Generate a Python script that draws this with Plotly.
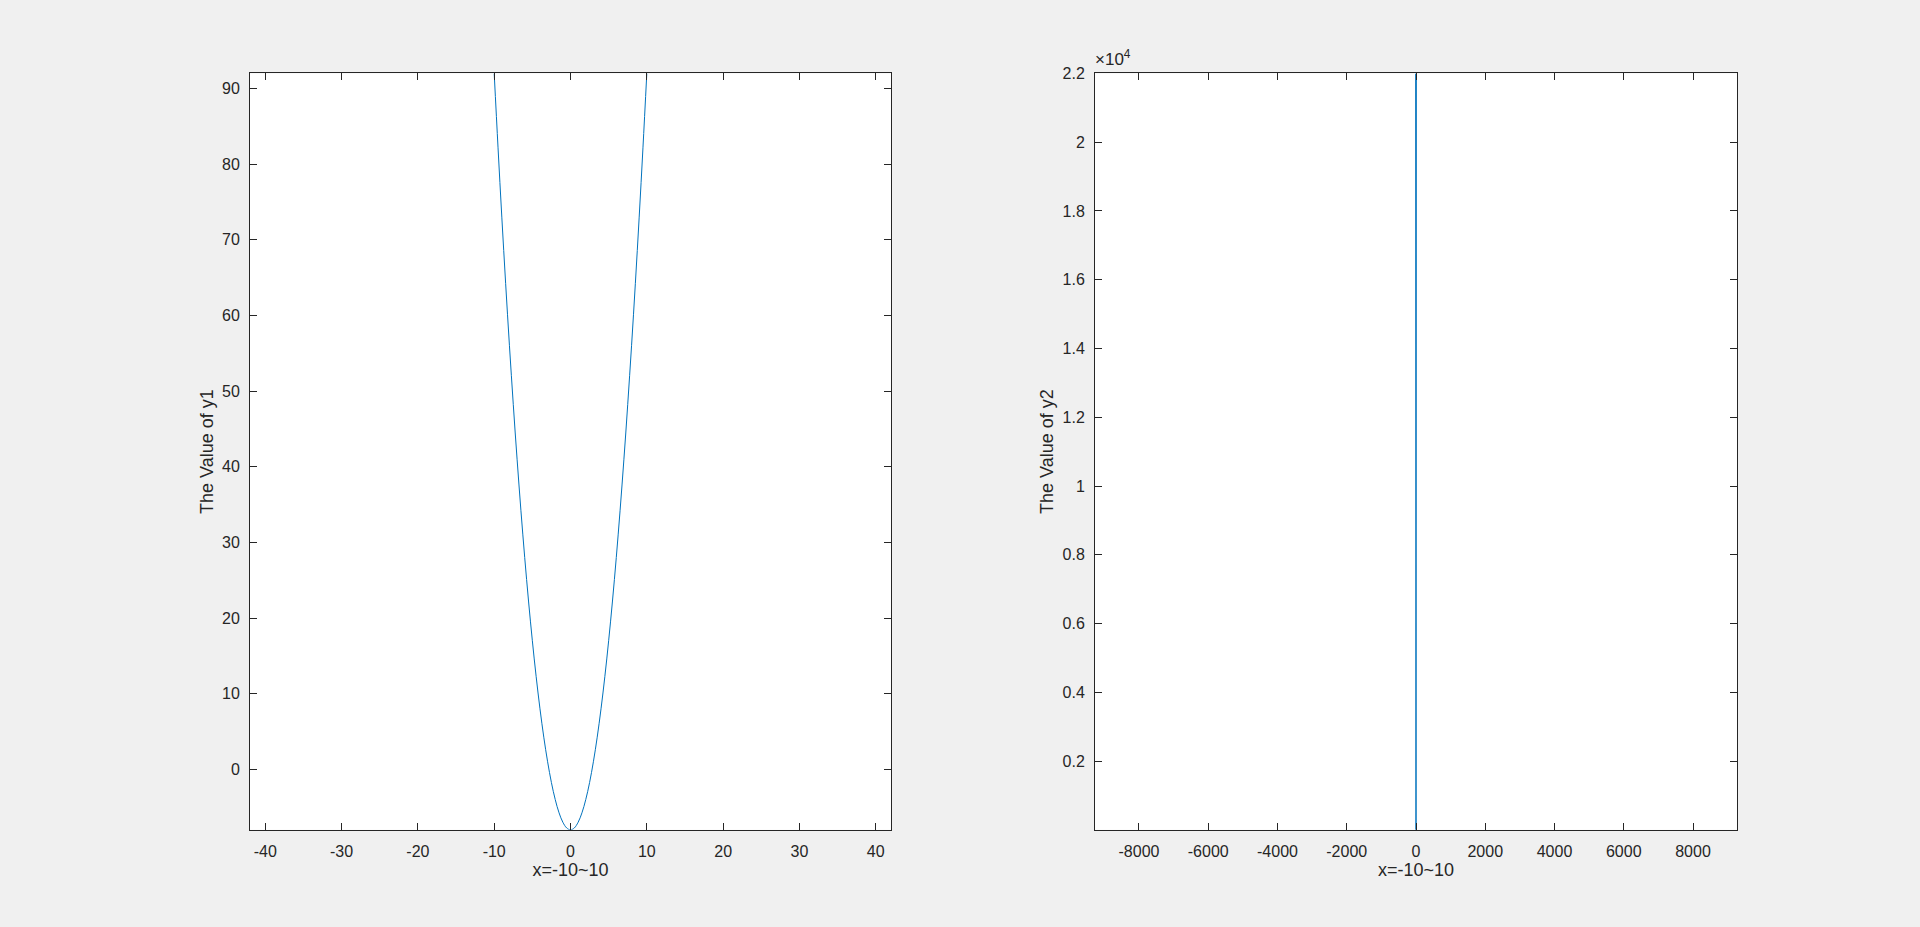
import plotly.graph_objects as go

# ---- data ----
x1 = [-10, -9.5, -9, -8.5, -8, -7.5, -7, -6.5, -6, -5.5, -5, -4.5, -4, -3.5, -3, -2.5, -2, -1.5, -1, -0.5,
      0, 0.5, 1, 1.5, 2, 2.5, 3, 3.5, 4, 4.5, 5, 5.5, 6, 6.5, 7, 7.5, 8, 8.5, 9, 9.5, 10]
y1 = [92, 82.25, 73, 64.25, 56, 48.25, 41, 34.25, 28, 22.25, 17, 12.25, 8, 4.25, 1, -1.75, -4, -5.75, -7, -7.75,
      -8, -7.75, -7, -5.75, -4, -1.75, 1, 4.25, 8, 12.25, 17, 22.25, 28, 34.25, 41, 48.25, 56, 64.25, 73, 82.25, 92]

x2 = [-10, -9, -8, -7, -6, -5, -4, -3, -2, -1, 0, 1, 2, 3, 4, 5, 6, 7, 8, 9, 10]
y2 = [22000, 14742, 9472, 5782, 3312, 1750, 832, 342, 112, 22, 0, 22, 112, 342, 832, 1750, 3312, 5782, 9472, 14742, 22000]

x1_ticks = [-40, -30, -20, -10, 0, 10, 20, 30, 40]
x1_ticktext = ["-40", "-30", "-20", "-10", "0", "10", "20", "30", "40"]
y1_ticks = [0, 10, 20, 30, 40, 50, 60, 70, 80, 90]
x2_ticks = [-8000, -6000, -4000, -2000, 0, 2000, 4000, 6000, 8000]
x2_ticktext = ["-8000", "-6000", "-4000", "-2000", "0", "2000", "4000", "6000", "8000"]
y2_ticks = [2000, 4000, 6000, 8000, 10000, 12000, 14000, 16000, 18000, 20000, 22000]
y2_ticktext = ["0.2", "0.4", "0.6", "0.8", "1", "1.2", "1.4", "1.6", "1.8", "2", "2.2"]

x_title = "x=-10~10"
y1_title = "The Value of y1"
y2_title = "The Value of y2"

LINE = "#0072BD"
AX = "#262626"
FONT = "Liberation Sans, Arial, sans-serif"
FS = 16
FT = 18

fig = go.Figure()
fig.add_trace(go.Scatter(x=x1, y=y1, mode="lines", line=dict(color=LINE, width=1, shape="spline"),
                         xaxis="x", yaxis="y", showlegend=False))
fig.add_trace(go.Scatter(x=x2, y=y2, mode="lines", line=dict(color=LINE, width=1),
                         xaxis="x2", yaxis="y2", showlegend=False))

W, H = 1920, 927
ydom = [(H - 829) / H, (H - 66) / H]

common = dict(showgrid=False, zeroline=False, showline=True, linecolor=AX, linewidth=1,
              mirror="ticks", ticks="inside", ticklen=7, tickwidth=1, tickcolor=AX,
              tickfont=dict(family=FONT, size=FS, color=AX))

fig.update_layout(
    width=W, height=H,
    paper_bgcolor="#f0f0f0", plot_bgcolor="white",
    margin=dict(l=0, r=0, t=0, b=0),
    font=dict(family=FONT, size=FS, color=AX),
    xaxis=dict(domain=[250 / W, 891 / W], range=[-42.0, 42.0], tickvals=x1_ticks, ticktext=x1_ticktext,
               ticklabelstandoff=7,
               title=dict(text=x_title, font=dict(size=FT, color=AX), standoff=4), anchor="y", **common),
    yaxis=dict(domain=ydom, range=[-8, 92], tickvals=y1_ticks, ticklabelstandoff=6,
               title=dict(text=y1_title, font=dict(size=FT, color=AX), standoff=3), anchor="x", **common),
    xaxis2=dict(domain=[1095 / W, 1737 / W], range=[-9270, 9270], tickvals=x2_ticks, ticktext=x2_ticktext,
                ticklabelstandoff=7,
                title=dict(text=x_title, font=dict(size=FT, color=AX), standoff=4), anchor="y2", **common),
    yaxis2=dict(domain=ydom, range=[0, 22000], tickvals=y2_ticks, ticktext=y2_ticktext, ticklabelstandoff=6,
                title=dict(text=y2_title, font=dict(size=FT, color=AX), standoff=4), anchor="x2", **common),
    annotations=[dict(text="×10<sup>4</sup>", xref="paper", yref="paper", x=1093 / W, y=(H - 64) / H,
                      xanchor="left", yanchor="bottom", showarrow=False,
                      font=dict(family=FONT, size=17, color=AX))],
)

fig.write_html("out.html", config={"displayModeBar": False},
               post_script="document.body.style.margin='0';document.body.style.background='#f0f0f0';"
                           "document.documentElement.style.overflow='hidden';")
